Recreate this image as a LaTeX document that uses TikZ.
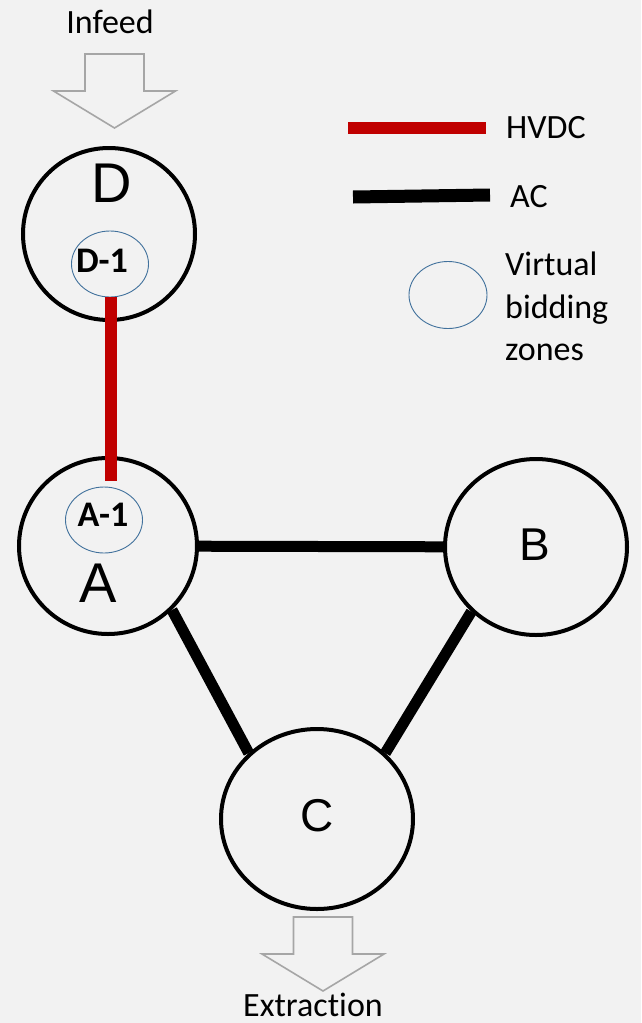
\documentclass[tikz,border=0pt]{standalone}
\usepackage{fontspec}
\setmainfont[Ligatures=NoCommon]{Carlito}
\newfontfamily\areafont{Liberation Sans}
\usetikzlibrary{shapes.geometric}
\definecolor{bgpanel}{HTML}{F2F2F2}
\definecolor{hvdcred}{HTML}{C00000}
\definecolor{zoneblue}{HTML}{41719C}
\definecolor{flowgray}{HTML}{A6A6A6}
\tikzset{
  area/.style={ellipse, draw=black, line width=4pt, inner sep=0pt},
  vzone/.style={ellipse, draw=zoneblue, line width=0.9pt, inner sep=0pt,
    minimum width=77pt, minimum height=66pt},
  acline/.style={draw=black, line width=11pt},
  hvdcline/.style={draw=hvdcred, line width=12pt},
  flowline/.style={draw=flowgray, line width=1.6pt, line join=miter},
  bigname/.style={font=\areafont\fontsize{56}{60}\selectfont, anchor=base, inner sep=0pt},
  midname/.style={font=\areafont\fontsize{46}{50}\selectfont, anchor=base, inner sep=0pt},
  zonename/.style={font=\bfseries\fontsize{36}{40}\selectfont, anchor=base, inner sep=0pt},
  note/.style={font=\fontsize{34}{40}\selectfont, inner sep=0pt},
}
% block arrow, #1 = middle of its top edge
\newcommand{\flowarrow}[1]{%
  \begin{scope}[shift={#1}]
    \draw[flowline] (-29.5,0) -- (29.5,0) -- (29.5,37) -- (61,37) -- (0,74)
      -- (-61,37) -- (-29.5,37) -- cycle;
  \end{scope}}

\begin{document}
\begin{tikzpicture}[x=1pt, y=-1pt]
  \fill[bgpanel] (0,0) rectangle (641,1023);

  % bidding zones
  \node[area, minimum width=172pt, minimum height=172pt] (D) at (109,234) {};
  \node[area, minimum width=178pt, minimum height=176pt] (A) at (108,546) {};
  \node[area, minimum width=182pt, minimum height=176pt] (B) at (536,547) {};
  \node[area, minimum width=192pt, minimum height=180pt] (C) at (317,819) {};
  \node[bigname] (Dlbl) at (112,202) {D};
  \node[bigname] (Albl) at (98,602) {A};
  \node[midname] (Blbl) at (535,560) {B};
  \node[midname] (Clbl) at (317,831) {C};

  % virtual zones
  \node[vzone] (D1) at (110,264) {};
  \node[vzone] (A1) at (104,520) {};
  \node[zonename] (D1lbl) at (102,272) {D-1};
  \node[zonename] (A1lbl) at (103,526) {A-1};

  % AC links
  \draw[acline] (A) -- (B);
  \draw[acline] (A.-45) -- (C.136);
  \draw[acline] (B.-135) -- (C.44);

  % HVDC link
  \draw[hvdcline, shorten >=6pt] ([xshift=1pt]D1.south) -- ([xshift=1pt]D1.south |- A1.north);

  % infeed and extraction
  \flowarrow{(114.5,54)}
  \node[note, anchor=base] (infeed) at (110,33) {Infeed};
  \flowarrow{(323,917)}
  \node[note, anchor=base] (extraction) at (313,1016) {Extraction};

  % legend
  \draw[hvdcline] (348,128) -- (486,128);
  \node[note, anchor=base west] (hvdc) at (506,138) {HVDC};
  \draw[acline, line width=13pt] (353,197) -- (490,195);
  \node[note, anchor=base west] (ac) at (510,207) {AC};
  \node[vzone, minimum width=78pt, minimum height=67pt] (vz) at (448,295) {};
  \node[note, anchor=base west] (vz1) at (505,275) {Virtual};
  \node[note, anchor=base west] (vz2) at (505,318) {bidding};
  \node[note, anchor=base west] (vz3) at (505,360) {zones};
\end{tikzpicture}
\end{document}
